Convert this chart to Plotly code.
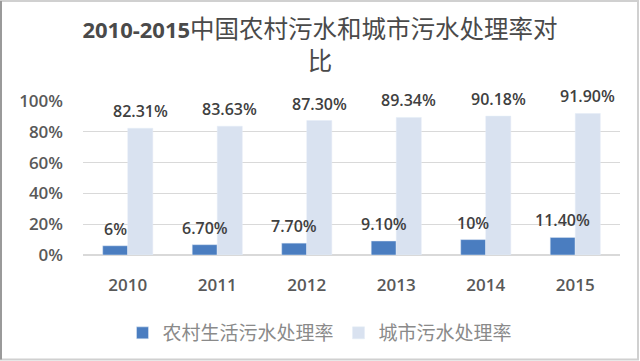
import plotly.graph_objects as go

years = ["2010", "2011", "2012", "2013", "2014", "2015"]
rural = [0.06, 0.067, 0.077, 0.091, 0.10, 0.114]
rural_labels = ["6%", "6.70%", "7.70%", "9.10%", "10%", "11.40%"]
urban = [0.8231, 0.8363, 0.8730, 0.8934, 0.9018, 0.9190]
urban_labels = ["82.31%", "83.63%", "87.30%", "89.34%", "90.18%", "91.90%"]
series_names = ["农村生活污水处理率", "城市污水处理率"]
title_num = "2010-2015"
title_cjk1 = "中国农村污水和城市污水处理率对"
title_cjk2 = "比"

BLUE = "#4A7DC0"
LIGHT = "#D9E2F0"
FONT = "Open Sans, Noto Sans CJK SC, sans-serif"
CJK = "Noto Sans CJK SC, sans-serif"
bargap = 0.44
half = (1 - bargap) / 4  # center offset of each bar within its group

title_text = (f"<span style='font-size:22px;font-family:Open Sans'><b>{title_num}</b></span>{title_cjk1}"
              f"<br>{title_cjk2}")

fig = go.Figure()
fig.add_trace(go.Bar(x=years, y=rural, name=series_names[0], marker_color=BLUE))
fig.add_trace(go.Bar(x=years, y=urban, name=series_names[1], marker_color=LIGHT))

annotations = []
for i, (r, rl, u, ul) in enumerate(zip(rural, rural_labels, urban, urban_labels)):
    for val, lab, off in ((r, rl, -half), (u, ul, half)):
        annotations.append(dict(
            x=i + off, y=val, xref="x", yref="y", text=lab, showarrow=False,
            yanchor="bottom", yshift=4,
            font=dict(family=FONT, size=16, color="#404040", weight=600)))

fig.update_layout(
    width=640, height=361,
    paper_bgcolor="white", plot_bgcolor="white",
    margin=dict(l=83, r=20, t=101, b=106, autoexpand=False),
    barmode="group", bargap=bargap, bargroupgap=0,
    title=dict(text=title_text, x=0.5, xanchor="center", xref="container",
               y=0.894, yanchor="middle", yref="container",
               font=dict(family=CJK, size=24.5, color="#4A4A4A")),
    showlegend=True,
    legend=dict(orientation="h", x=0.5, xanchor="center", xref="container",
                y=1 - 333 / 361, yanchor="middle", yref="container",
                itemwidth=30, tracegroupgap=0,
                font=dict(family=CJK, size=19, color="#8A8A8A"),
                itemclick=False),
    annotations=annotations,
    shapes=[dict(type="rect", xref="paper", yref="paper", x0=-0.1527, x1=1.0335,
                 y0=-0.679, y1=1.649, line=dict(color="#D0D0D0", width=2)),
            dict(type="line", xref="paper", yref="paper", x0=-0.1527, x1=-0.1527,
                 y0=-0.679, y1=1.649, line=dict(color="#9A9A9A", width=2))],
)
fig.update_yaxes(range=[0, 1], tickformat=".0%", dtick=0.2, showgrid=True,
                 gridcolor="#D9D9D9", gridwidth=1, zeroline=True, zerolinecolor="#D9D9D9",
                 ticks="", ticklabelstandoff=19, automargin=False,
                 tickfont=dict(family=FONT, size=17, color="#595959", weight=600))
fig.update_xaxes(type="category", showgrid=False, ticks="", showline=False,
                 ticklabelstandoff=18, automargin=False,
                 tickfont=dict(family=FONT, size=17, color="#595959", weight=600))

fig.write_html("out.html", config={"displayModeBar": False},
               post_script="document.body.style.margin='0px';")
